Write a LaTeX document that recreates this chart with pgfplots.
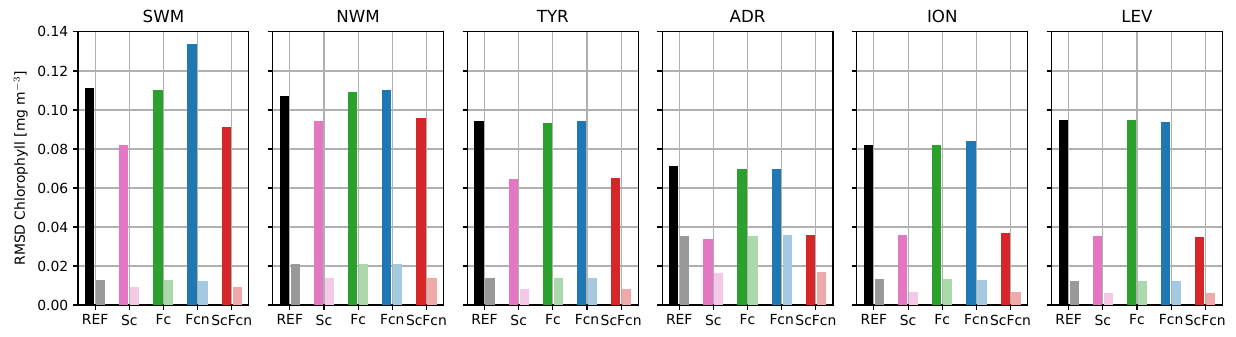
\documentclass[border=0pt]{standalone}
\usepackage{pgfplots}
\pgfplotsset{compat=1.18}
\usepackage{pgfplotstable}
\usepgfplotslibrary{groupplots}
\usetikzlibrary{calc}
\usepackage{fontspec}
\setmainfont{DejaVu Sans}

% dark = main colour, light = same at 40% on white
\definecolor{dk0}{HTML}{000000}
\definecolor{dk1}{HTML}{E377C2}
\definecolor{dk2}{HTML}{2CA02C}
\definecolor{dk3}{HTML}{1F77B4}
\definecolor{dk4}{HTML}{D62728}
\colorlet{lt0}{dk0!40!white}
\colorlet{lt1}{dk1!40!white}
\colorlet{lt2}{dk2!40!white}
\colorlet{lt3}{dk3!40!white}
\colorlet{lt4}{dk4!40!white}
\definecolor{gridgray}{HTML}{B0B0B0}

% x: 0 REF, 1 Sc, 2 Fc, 3 Fcn, 4 ScFcn
\pgfplotstableread{
x dark light
0 0.1113 0.0128
1 0.0821 0.0094
2 0.1103 0.0128
3 0.1340 0.0123
4 0.0913 0.0094
}\SWM
\pgfplotstableread{
x dark light
0 0.1072 0.0210
1 0.0944 0.0138
2 0.1092 0.0210
3 0.1103 0.0210
4 0.0959 0.0138
}\NWM
\pgfplotstableread{
x dark light
0 0.0944 0.0138
1 0.0646 0.0082
2 0.0933 0.0138
3 0.0944 0.0138
4 0.0651 0.0082
}\TYR
\pgfplotstableread{
x dark light
0 0.0713 0.0354
1 0.0338 0.0164
2 0.0697 0.0354
3 0.0697 0.0359
4 0.0359 0.0169
}\ADR
\pgfplotstableread{
x dark light
0 0.0821 0.0133
1 0.0359 0.0067
2 0.0821 0.0133
3 0.0841 0.0128
4 0.0369 0.0067
}\ION
\pgfplotstableread{
x dark light
0 0.0949 0.0123
1 0.0354 0.0062
2 0.0949 0.0123
3 0.0938 0.0123
4 0.0349 0.0062
}\LEV

\newcommand{\drawpanel}[1]{%
  \pgfplotsinvokeforeach{0,...,4}{%
    \addplot[ybar, fill=dk##1, draw=none, bar width=0.27, bar shift=-0.16,
      restrict x to domain=##1:##1] table[x=x, y=dark] {#1};
    \addplot[ybar, fill=lt##1, draw=none, bar width=0.27, bar shift=0.16,
      restrict x to domain=##1:##1] table[x=x, y=light] {#1};
  }%
}

\begin{document}
\begin{tikzpicture}
\begin{groupplot}[
    group style={group size=6 by 1, horizontal sep=17.2pt, y descriptions at=edge left},
    scale only axis,
    width=123pt, height=196.6pt,
    xmin=-0.5, xmax=4.5,
    ymin=0, ymax=0.14,
    xtick={0,1,2,3,4},
    xticklabels={REF,Sc,Fc,Fcn,ScFcn},
    ytick={0,0.02,0.04,0.06,0.08,0.10,0.12,0.14},
    yticklabel style={/pgf/number format/.cd, fixed, fixed zerofill, precision=2},
    /pgf/number format/assume math mode=true,
    tick label style={font=\fontsize{10}{12}\selectfont},
    title style={font=\fontsize{12}{14}\selectfont, yshift=-3pt},
    ylabel style={font=\fontsize{10}{12}\selectfont},
    grid=major,
    major grid style={gridgray, line width=0.8pt},
    axis line style={line width=0.8pt},
    tick style={black, line width=0.8pt},
    major tick length=3.5pt,
    tick align=outside,
    xtick pos=bottom, ytick pos=left,
]
\nextgroupplot[title=SWM, ylabel={RMSD Chlorophyll [mg m$^{-3}$]}]
\drawpanel{\SWM}
\nextgroupplot[title=NWM]
\drawpanel{\NWM}
\nextgroupplot[title=TYR]
\drawpanel{\TYR}
\nextgroupplot[title=ADR]
\drawpanel{\ADR}
\nextgroupplot[title=ION]
\drawpanel{\ION}
\nextgroupplot[title=LEV]
\drawpanel{\LEV}
\end{groupplot}
\pgfresetboundingbox
\path ($(group c1r1.south west)+(-56.16pt,-23.04pt)$) rectangle ++(889.92pt,242.64pt);
\end{tikzpicture}
\end{document}
